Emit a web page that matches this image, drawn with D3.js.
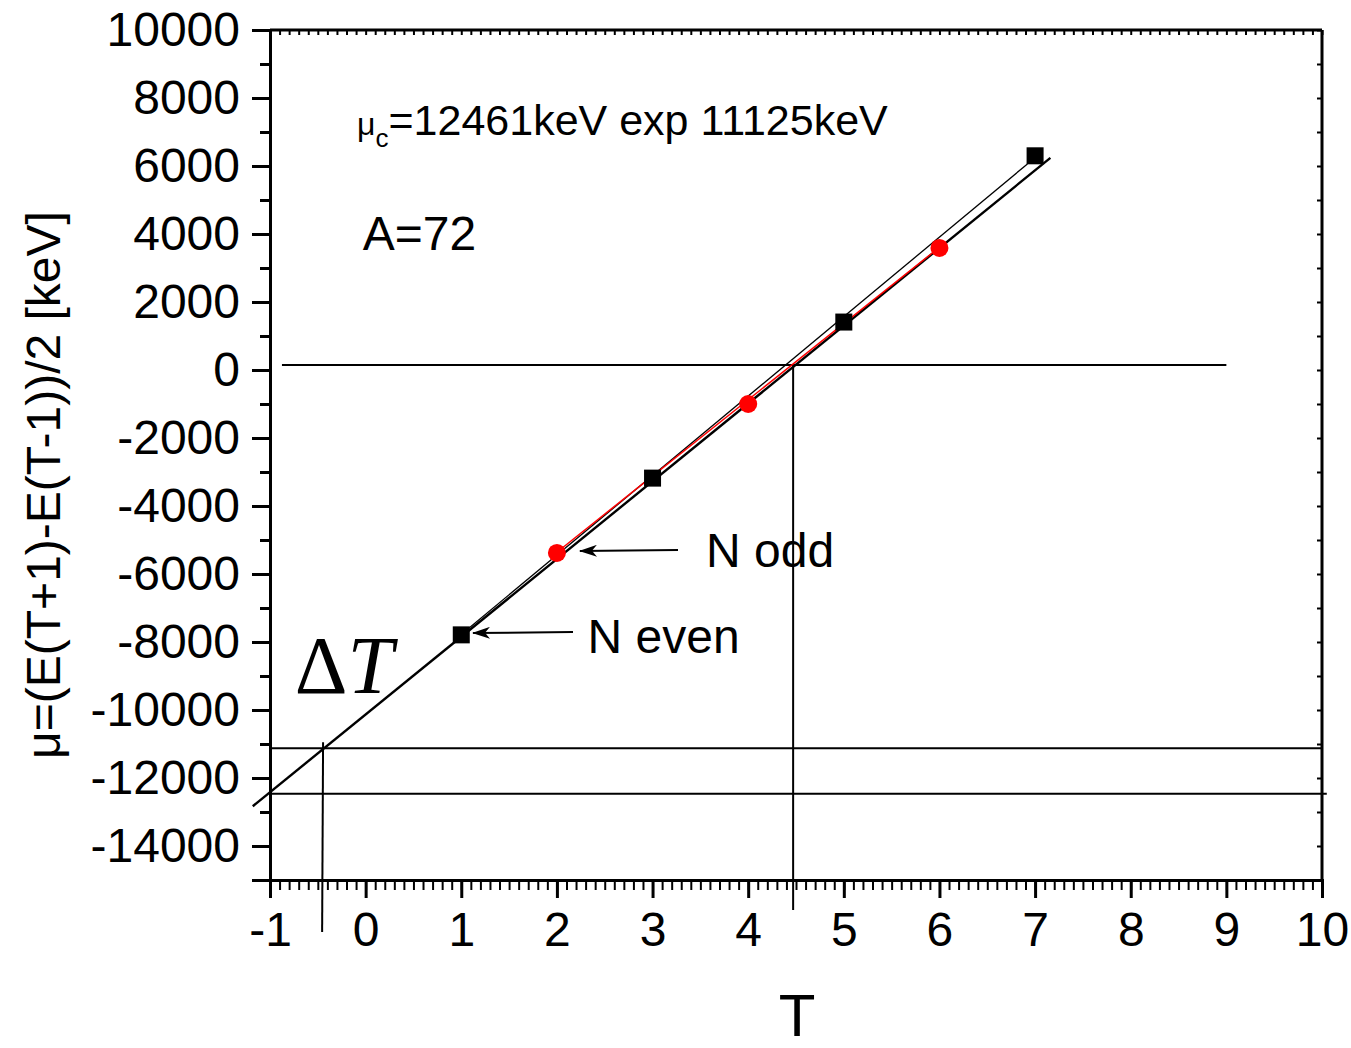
<!DOCTYPE html>
<html>
<head>
<meta charset="utf-8">
<script src="https://cdn.jsdelivr.net/npm/d3@7"></script>
<style>
  body { margin: 0; background: #fff; }
  svg text { font-family: "Liberation Sans", Arial, sans-serif; fill: #000; }
</style>
</head>
<body>
<svg width="1351" height="1048"></svg>
<script>
// data
var evenT = [1, 3, 5, 7];
var evenMu = [-7790, -3180, 1410, 6300];
var oddT = [2, 4, 6];
var oddMu = [-5380, -1000, 3590];

// fitted lines (endpoints in T, mu)
var fitAllT = [-1.18, 7.16];
var fitAllMu = [-12830, 6240];
var fitEvenT = [1, 6.92];
var fitEvenMu = [-7780, 6060];
var fitOddT = [2, 6];
var fitOddMu = [-5360, 3610];

// reference lines
var muC = -12461, muExp = -11125;
var zeroMu = 150;
var crossT = 4.47;
var deltaT = -0.445;

var xTicks = d3.range(-1, 11, 1);
var yTicks = d3.range(-14000, 10001, 2000);

var svg = d3.select("svg");

var x = d3.scaleLinear().domain([-1, 10]).range([270, 1322]);
var y = d3.scaleLinear().domain([-15000, 10000]).range([880, 30]);

var line = d3.line().x(function(d) { return x(d[0]); }).y(function(d) { return y(d[1]); });
var fmt = function(d) { return d < 0 ? "-" + Math.abs(d) : d; };

// ---- axes ----
var minorX = d3.range(-10, 101).map(function(i) { return i / 10; });
var minorY = d3.range(-15000, 10001, 1000);

// bottom: minor then major
svg.append("g").attr("transform", "translate(0," + y(-15000) + ")")
  .call(d3.axisBottom(x).tickValues(minorX).tickSize(10).tickFormat(""))
  .call(function(g) { g.select(".domain").remove(); g.selectAll("line").attr("stroke-width", 2); });
svg.append("g").attr("transform", "translate(0," + y(-15000) + ")")
  .call(d3.axisBottom(x).tickValues(xTicks).tickSize(18).tickPadding(14).tickFormat(fmt))
  .call(function(g) {
    g.select(".domain").attr("stroke-width", 3);
    g.selectAll("line").attr("stroke-width", 3);
    g.selectAll("text").attr("font-size", 48).attr("font-family", "Liberation Sans, Arial, sans-serif");
  });

// left: minor then major
svg.append("g").attr("transform", "translate(" + x(-1) + ",0)")
  .call(d3.axisLeft(y).tickValues(minorY).tickSize(10).tickFormat(""))
  .call(function(g) { g.select(".domain").remove(); g.selectAll("line").attr("stroke-width", 3); });
svg.append("g").attr("transform", "translate(" + x(-1) + ",0)")
  .call(d3.axisLeft(y).tickValues(yTicks).tickSize(18).tickPadding(12).tickFormat(fmt))
  .call(function(g) {
    g.select(".domain").attr("stroke-width", 3);
    g.selectAll("line").attr("stroke-width", 3);
    g.selectAll("text").attr("font-size", 48).attr("font-family", "Liberation Sans, Arial, sans-serif");
  });

// top: small inward ticks
svg.append("g").attr("transform", "translate(0," + y(10000) + ")")
  .call(d3.axisTop(x).tickValues(minorX).tickSize(-5).tickFormat(""))
  .call(function(g) {
    g.select(".domain").attr("stroke-width", 3).attr("d", "M" + x(-1) + ",0H" + x(10));
    g.selectAll("line").attr("stroke-width", 2);
  });

// right: small inward ticks
svg.append("g").attr("transform", "translate(" + x(10) + ",0)")
  .call(d3.axisRight(y).tickValues(minorY).tickSize(-5).tickFormat(""))
  .call(function(g) {
    g.select(".domain").attr("stroke-width", 3).attr("d", "M0," + y(10000) + "V" + y(-15000));
    g.selectAll("line").attr("stroke-width", 2);
  });

// ---- reference lines ----
var refs = svg.append("g").attr("stroke", "#000").attr("stroke-width", 2).attr("fill", "none");
refs.append("path").attr("d", line([[-1, muExp], [10, muExp]]));
refs.append("path").attr("d", line([[-1, muC], [10.05, muC]]));
refs.append("path").attr("d", line([[-0.875, zeroMu], [9.0, zeroMu]]));
refs.append("path").attr("d", line([[crossT, zeroMu], [crossT, -15880]]));
refs.append("path").attr("d", line([[deltaT, -10950], [deltaT - 0.01, -16530]]));

// ---- fit lines ----
svg.append("path").attr("d", line(d3.zip(fitAllT, fitAllMu)))
  .attr("stroke", "#000").attr("stroke-width", 2.4).attr("fill", "none");
svg.append("path").attr("d", line(d3.zip(fitEvenT, fitEvenMu)))
  .attr("stroke", "#000").attr("stroke-width", 1.3).attr("fill", "none");
svg.append("path").attr("d", line(d3.zip(fitOddT, fitOddMu)))
  .attr("stroke", "#f00").attr("stroke-width", 1.5).attr("fill", "none");

// ---- points ----
var sq = 17;
svg.append("g").selectAll("rect").data(d3.zip(evenT, evenMu)).enter().append("rect")
  .attr("x", function(d) { return x(d[0]) - sq / 2; })
  .attr("y", function(d) { return y(d[1]) - sq / 2; })
  .attr("width", sq).attr("height", sq).attr("fill", "#000");
svg.append("g").selectAll("circle").data(d3.zip(oddT, oddMu)).enter().append("circle")
  .attr("cx", function(d) { return x(d[0]); })
  .attr("cy", function(d) { return y(d[1]); })
  .attr("r", 9).attr("fill", "#f00");

// ---- arrows ----
svg.append("defs").append("marker")
  .attr("id", "arr").attr("viewBox", "0 0 18 12").attr("refX", 17).attr("refY", 6)
  .attr("markerWidth", 18).attr("markerHeight", 12).attr("markerUnits", "userSpaceOnUse")
  .attr("orient", "auto")
  .append("path").attr("d", "M0,0L18,6L0,12L5,6Z").attr("fill", "#000");

svg.append("path").attr("d", line([[3.266, -5294], [2.241, -5323]]))
  .attr("stroke", "#000").attr("stroke-width", 2).attr("marker-end", "url(#arr)");
svg.append("path").attr("d", line([[2.168, -7706], [1.123, -7735]]))
  .attr("stroke", "#000").attr("stroke-width", 2).attr("marker-end", "url(#arr)");

// ---- annotations ----
svg.append("text").attr("x", x(3.56)).attr("y", y(-5800)).attr("font-size", 48).text("N odd");
svg.append("text").attr("x", x(2.32)).attr("y", y(-8320)).attr("font-size", 48).text("N even");
svg.append("text").attr("x", x(-0.03)).attr("y", y(3530)).attr("font-size", 48).text("A=72");

var mt = svg.append("text").attr("x", x(-0.09)).attr("y", y(6900)).attr("font-size", 43);
mt.append("tspan").attr("font-size", 32).text("μ");
mt.append("tspan").attr("font-size", 26).attr("dy", 12).text("c");
mt.append("tspan").attr("dy", -12).text("=12461keV exp 11125keV");

var dt = svg.append("text").attr("x", x(-0.74)).attr("y", y(-9500)).attr("font-size", 82)
  .attr("font-family", "Liberation Serif, Times New Roman, serif");
dt.append("tspan").attr("font-family", "Liberation Serif, Times New Roman, serif").text("Δ");
dt.append("tspan").attr("font-family", "Liberation Serif, Times New Roman, serif").attr("font-style", "italic").text("T");

// axis titles
svg.append("text").attr("x", 797).attr("y", 1036).attr("text-anchor", "middle").attr("font-size", 60).text("T");
svg.append("text").attr("transform", "translate(60,485) rotate(-90)").attr("text-anchor", "middle")
  .attr("font-size", 48).text("μ=(E(T+1)-E(T-1))/2 [keV]");
</script>
</body>
</html>
